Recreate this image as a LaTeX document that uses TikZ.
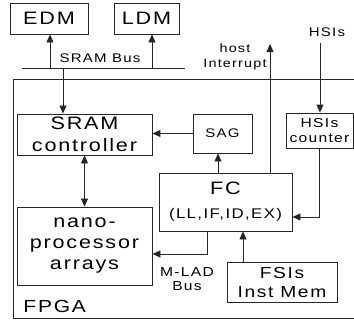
\documentclass[tikz,border=0pt]{standalone}
\usepackage{fontspec}
\setmainfont[FakeStretch=1.2,LetterSpace=10]{Liberation Sans}
\usetikzlibrary{arrows.meta}
\newcommand{\fsz}[2]{\fontsize{#1}{#2}\selectfont}
\begin{document}
\begin{tikzpicture}[x=1pt,y=-1pt, line width=0.9pt, draw=black!85,
 box/.style={draw=black!85, inner sep=0pt, align=center},
 arr/.style={-{Triangle[length=8pt,width=7pt]}},
 darr/.style={{Triangle[length=8pt,width=7pt]}-{Triangle[length=8pt,width=7pt]}},
 lbl/.style={inner sep=0pt, align=center}]
\useasboundingbox (0,0) rectangle (354,325);

% FPGA region (open on the right)
\draw (354,79) -- (13,79) -- (13,318) -- (354,318);

% boxes
\node[box, minimum width=78, minimum height=31, font=\fsz{18}{22}] (edm) at (49,18.5) {EDM};
\node[box, minimum width=65, minimum height=31, font=\fsz{18}{22}] (ldm) at (146.5,18.5) {LDM};
\node[box, minimum width=135, minimum height=41, font=\fsz{18}{22}] (sram) at (84.5,134.5) {SRAM\\controller};
\node[box, minimum width=135, minimum height=78, font=\fsz{18}{21}] (nano) at (84.5,246) {nano-\\processor\\arrays};
\node[box, minimum width=59, minimum height=39, font=\fsz{12.5}{15}] (sag) at (222.5,133.5) {SAG};
\node[box, minimum width=67, minimum height=35, font=\fsz{13}{15}] (hsic) at (319.5,130.5) {HSIs\\counter};
\node[box, minimum width=133, minimum height=58, font=\fsz{18}{24}] (fc) at (225.5,202) {FC\\\fsz{14}{24}(LL,IF,ID,EX)};
\node[box, minimum width=110, minimum height=40, font=\fsz{16}{19}] (fsi) at (282,282) {FSIs\\Inst Mem};

% labels
\node[lbl, font=\fsz{12.5}{15}] (sbus) at (100,58) {SRAM Bus};
\node[lbl, font=\fsz{12}{15.5}] (hostl) at (235,57) {host\\Interrupt};
\node[lbl, font=\fsz{12.5}{15}] (hsil) at (327,32.5) {HSIs};
\node[lbl, font=\fsz{13}{13.5}] (mlad) at (187,279) {M-LAD\\Bus};
\node[lbl, font=\fsz{17.5}{20}, anchor=west] (fpga) at (23,306) {FPGA};

% SRAM bus
\coordinate (busL) at (22,68);
\coordinate (busR) at (185,68);
\draw (busL) -- (busR);
\coordinate (bE) at (50,68);
\coordinate (bL) at (152,68);
\coordinate (bS) at (63,68);
\draw[arr] (bE) -- (bE |- edm.south);
\draw[arr] (bL) -- (bL |- ldm.south);
\draw[arr] (bS) -- (bS |- sram.north);

% connectors
\draw[arr] (sag.west) -- (sag.west -| sram.east);
\draw[darr] (sram.south) -- (nano.north);
\coordinate (xs) at (218,0);
\draw[arr] (fc.north -| xs) -- (sag.south -| xs);
\coordinate (host) at (270,44);
\draw[arr] (fc.north -| host) -- (host);
\coordinate (hsi) at (320,43);
\draw[arr] (hsi) -- (hsi |- hsic.north);
\coordinate (hc) at (319,217);
\draw[arr] (hsic.south -| hc) -- (hc) -- (hc -| fc.east);
\coordinate (ml) at (207,254);
\draw[arr] (fc.south -| ml) -- (ml) -- (ml -| nano.east);
\coordinate (xf) at (243,0);
\draw[arr] (fsi.north -| xf) -- (fc.south -| xf);
\end{tikzpicture}
\end{document}
